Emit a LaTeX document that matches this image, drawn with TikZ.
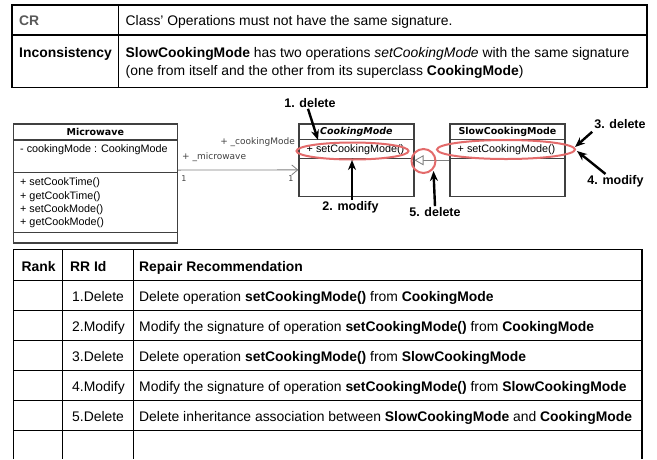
\documentclass[tikz,border=0pt]{standalone}
\usepackage{fontspec}
\setmainfont{Liberation Sans}
\newfontfamily\umlfont{DejaVu Sans}
\usetikzlibrary{arrows.meta,shapes.geometric}

\definecolor{umlgray}{HTML}{404040}
\definecolor{linkgray}{HTML}{808080}
\definecolor{markred}{HTML}{E36B6B}
\definecolor{crgray}{HTML}{595959}

\newcommand{\tblfont}{\fontsize{13.9}{17.5}\selectfont}
\newcommand{\opfont}{\fontsize{10.8}{13}\selectfont}

\begin{document}
\begin{tikzpicture}[x=1pt, y=-1pt,
  tbl/.style={draw=black, line width=1.1pt},
  cell/.style={anchor=base west, inner sep=0pt, font=\tblfont},
  classbox/.style={draw=umlgray, line width=1.2pt, fill=white, anchor=north west, inner sep=0pt},
  classline/.style={draw=umlgray, line width=1.2pt},
  classname/.style={inner sep=0pt, font=\umlfont\fontsize{9.5}{11}\selectfont\bfseries},
  member/.style={anchor=west, inner sep=0pt, font=\opfont},
  rolename/.style={inner sep=0pt, font=\umlfont\fontsize{9}{11}\selectfont, text=umlgray},
  redmark/.style={draw=markred, line width=2pt},
  marklabel/.style={inner sep=1pt, font=\fontsize{12.5}{14}\selectfont\bfseries},
  markarrow/.style={line width=2.4pt, -{Stealth[length=10pt,width=8pt]}},
]
\useasboundingbox (0,0) rectangle (657,459);

% constraint table
\draw[tbl] (12,5) rectangle (647,87.5);
\draw[tbl] (12,35) -- (647,35);
\draw[tbl] (118.5,5) -- (118.5,87.5);
\node[cell, text=crgray, font=\tblfont\bfseries] (cr) at (19,25) {CR};
\node[cell] (crtext) at (125.5,25) {Class' Operations must not have the same signature.};
\node[cell, font=\tblfont\bfseries] (inc) at (19,57.5) {Inconsistency};
\node[cell] (inctext1) at (125.5,57.5) {\textbf{SlowCookingMode} has two operations \textit{setCookingMode} with the same signature};
\node[cell] (inctext2) at (125.5,75) {(one from itself and the other from its superclass \textbf{CookingMode})};

% class diagram
\node[classbox, minimum width=164pt, minimum height=119pt] (microwave) at (12.7,123.3) {};
\draw[classline] ([yshift=-16.7pt]microwave.north west) -- ([yshift=-16.7pt]microwave.north east);
\draw[classline] ([yshift=-49pt]microwave.north west) -- ([yshift=-49pt]microwave.north east);
\draw[classline] ([yshift=-109.4pt]microwave.north west) -- ([yshift=-109.4pt]microwave.north east);
\node[classname] (mwname) at ([yshift=-8.4pt]microwave.north) {Microwave};
\node[member] (mwattr) at (20,150) {- cookingMode : CookingMode};
\node[member] (mwop1) at (20,183) {+ setCookTime()};
\node[member] (mwop2) at (20,196.3) {+ getCookTime()};
\node[member] (mwop3) at (20,209.6) {+ setCookMode()};
\node[member] (mwop4) at (20,223) {+ getCookMode()};

\node[classbox, minimum width=115pt, minimum height=72.7pt] (cooking) at (298.3,123.3) {};
\draw[classline] ([yshift=-16pt]cooking.north west) -- ([yshift=-16pt]cooking.north east);
\draw[classline] ([yshift=-35.5pt]cooking.north west) -- ([yshift=-35.5pt]cooking.north east);
\node[classname, font=\umlfont\fontsize{9.5}{11}\selectfont\bfseries\itshape] (cmname) at ([yshift=-8.2pt]cooking.north) {CookingMode};
\node[member] (cmop) at (306.5,150) {+ setCookingMode()};

\node[classbox, minimum width=115pt, minimum height=72.7pt] (slow) at (449.3,123.3) {};
\draw[classline] ([yshift=-16pt]slow.north west) -- ([yshift=-16pt]slow.north east);
\draw[classline] ([yshift=-35.5pt]slow.north west) -- ([yshift=-35.5pt]slow.north east);
\node[classname] (scmname) at ([yshift=-8.2pt]slow.north) {SlowCookingMode};
\node[member] (scmop) at (457.5,150) {+ setCookingMode()};

% association and generalization
\draw[draw=linkgray, line width=0.8pt, -{Straight Barb[length=6pt,width=10pt]}]
  ([yshift=13.3pt]microwave.east) -- ([yshift=-9.6pt]cooking.west);
\node[rolename, anchor=east] (role1) at (295,142) {+ \_cookingMode};
\node[rolename, anchor=west] (role2) at (182,157.5) {+ \_microwave};
\node[rolename, font=\umlfont\fontsize{8}{10}\selectfont] (mult1) at (184,179) {1};
\node[rolename, font=\umlfont\fontsize{8}{10}\selectfont] (mult2) at (291,179) {1};
\draw[draw=linkgray, line width=0.8pt, -{Triangle[open, length=9pt, width=10pt, fill=white]}]
  (slow.west) -- (cooking.east);

% marks
\node[redmark, ellipse, minimum width=112pt, minimum height=17pt] (ellcm) at (352.5,151) {};
\node[redmark, circle, minimum size=24pt] (ellgen) at (423.5,161) {};
\node[redmark, ellipse, minimum width=138pt, minimum height=19pt] (ellscm) at (506,149.5) {};

\node[marklabel] (del1) at (310,103) {1. delete};
\node[marklabel] (mod2) at (350.5,207) {2. modify};
\node[marklabel] (del3) at (620,124) {3. delete};
\node[marklabel] (mod4) at (615.5,181) {4. modify};
\node[marklabel] (del5) at (435,212) {5. delete};

\coordinate (tip1) at (318,140);
\coordinate (tip2) at (352,160);
\coordinate (tip3) at (575,147);
\coordinate (tip4) at (577,151);
\coordinate (tip5) at (433.5,171);

\draw[markarrow] ([xshift=-2pt]del1.south) -- (tip1);
\draw[markarrow] ([xshift=1.5pt]mod2.north) -- (tip2);
\draw[markarrow] ([xshift=-1pt,yshift=-2pt]del3.south west) -- (tip3);
\draw[markarrow] ([xshift=-10pt]mod4.north) -- (tip4);
\draw[markarrow] (del5.north) -- (tip5);

% repair table
\draw[tbl] (13.5,459) -- (13.5,249.3) -- (642,249.3) -- (642,459);
\draw[tbl] (62.5,249.3) -- (62.5,459);
\draw[tbl] (133.3,249.3) -- (133.3,459);
\draw[tbl] (13.5,280.8) -- (642,280.8);
\draw[tbl] (13.5,310.5) -- (642,310.5);
\draw[tbl] (13.5,340.5) -- (642,340.5);
\draw[tbl] (13.5,370.5) -- (642,370.5);
\draw[tbl] (13.5,400.8) -- (642,400.8);
\draw[tbl] (13.5,430.8) -- (642,430.8);

\node[cell, font=\tblfont\bfseries] (rank) at (21.5,271) {Rank};
\node[cell, font=\tblfont\bfseries] (rrid) at (70,271) {RR Id};
\node[cell, font=\tblfont\bfseries] (repair) at (139,271) {Repair Recommendation};

\node[cell] (id1) at (72,301) {1.Delete};
\node[cell] (rr1) at (139,301) {Delete operation \textbf{setCookingMode()} from \textbf{CookingMode}};
\node[cell] (id2) at (72,331) {2.Modify};
\node[cell] (rr2) at (139,331) {Modify the signature of operation \textbf{setCookingMode()} from \textbf{CookingMode}};
\node[cell] (id3) at (72,361) {3.Delete};
\node[cell] (rr3) at (139,361) {Delete operation \textbf{setCookingMode()} from \textbf{SlowCookingMode}};
\node[cell] (id4) at (72,391) {4.Modify};
\node[cell] (rr4) at (139,391) {Modify the signature of operation \textbf{setCookingMode()} from \textbf{SlowCookingMode}};
\node[cell] (id5) at (72,421) {5.Delete};
\node[cell] (rr5) at (139,421) {Delete inheritance association between \textbf{SlowCookingMode} and \textbf{CookingMode}};
\end{tikzpicture}
\end{document}
